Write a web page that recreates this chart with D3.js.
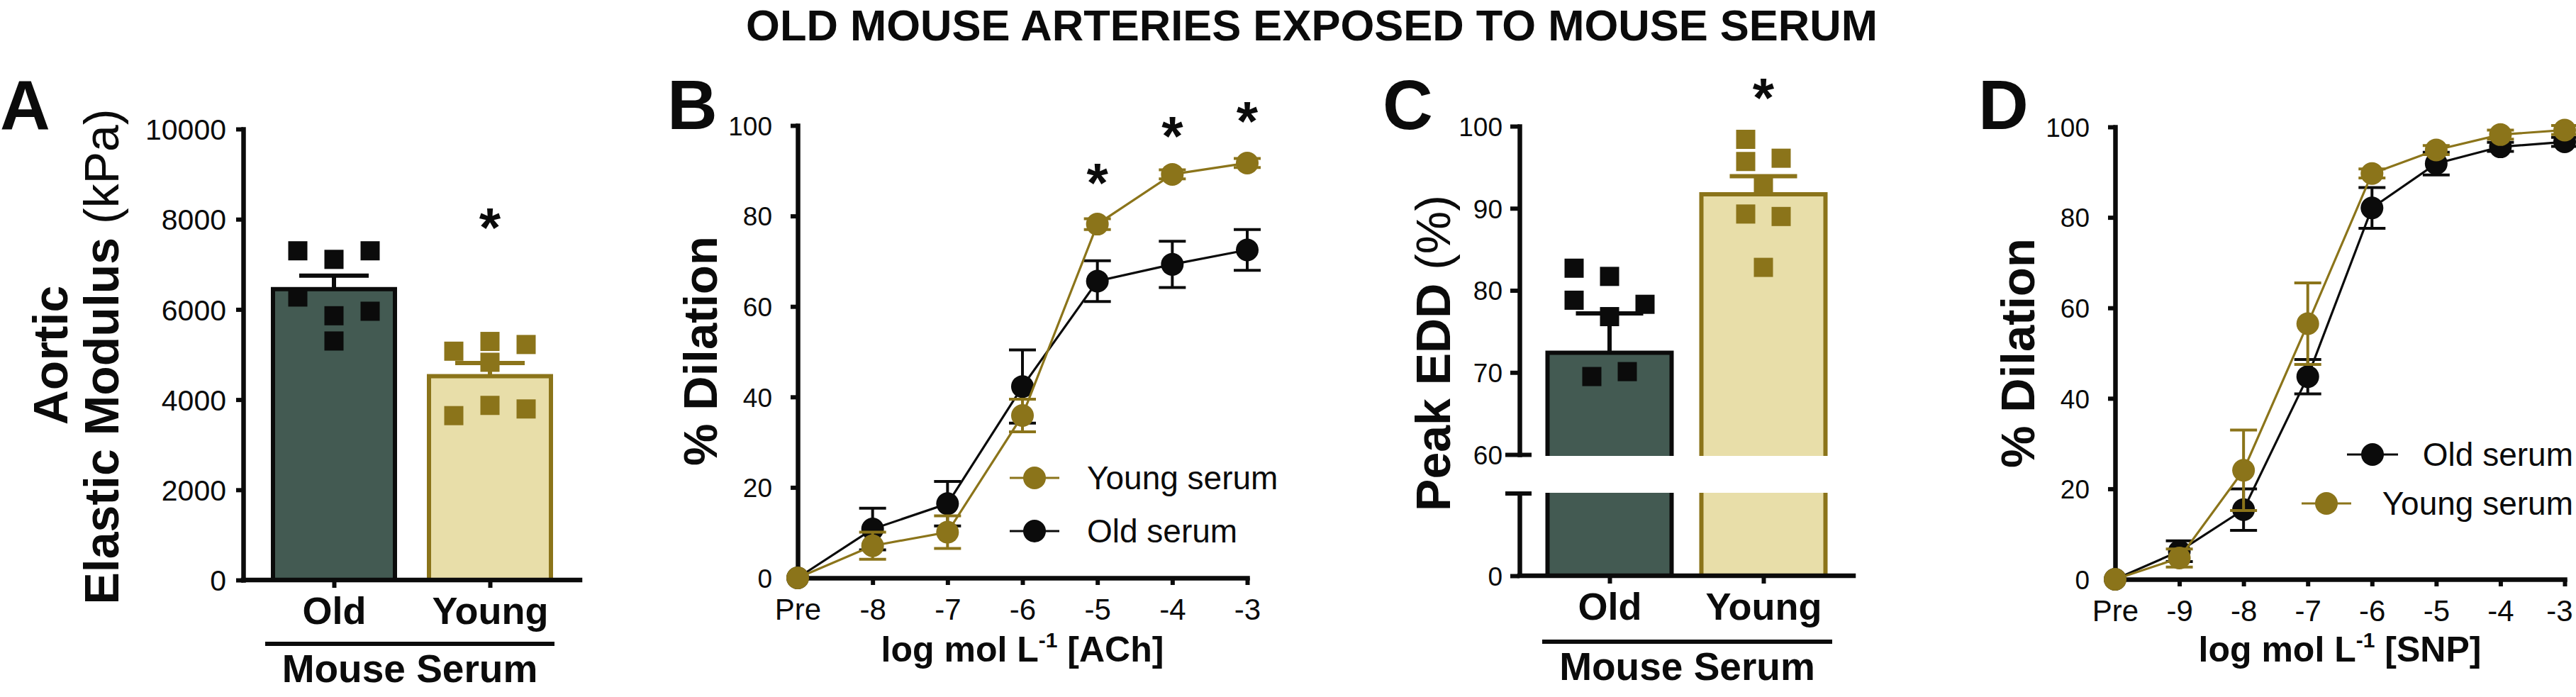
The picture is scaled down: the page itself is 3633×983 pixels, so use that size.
<!DOCTYPE html>
<html><head><meta charset="utf-8">
<script src="https://cdn.jsdelivr.net/npm/d3@7"></script>
<style>body{margin:0;background:#fff}svg{display:block}</style>
</head><body>
<svg id="c" width="3633" height="983"></svg>
<script>
// ---------------- DATA ----------------
const groups = ["Old", "Young"];
// Panel A: aortic elastic modulus (kPa)
const modulusMean = [6450, 4520];
const modulusSem = [300, 290];
const modulusOld = [7300, 7110, 7300, 6275, 5860, 5960, 5300];
const modulusYoung = [5074, 5290, 5222, 4828, 3645, 3872, 3793];
const modulusOldJitter = [-1, 0, 1, -1, 0, 1, 0];
const modulusYoungJitter = [-1, 0, 1, 0, -1, 0, 1];
// Panel B: ACh dose response (% dilation)
const achDoses = ["Pre", "-8", "-7", "-6", "-5", "-4", "-3"];
const achOld = [0, 10.8, 16.4, 42.3, 65.6, 69.3, 72.5];
const achOldSem = [0, 4.6, 4.9, 8.1, 4.5, 5.1, 4.5];
const achYoung = [0, 7.1, 10.1, 35.9, 78.2, 89.2, 91.7];
const achYoungSem = [0, 3.0, 3.6, 3.6, 1.2, 1.0, 1.0];
const achStarDoses = ["-5", "-4", "-3"];
const achStarLevels = [89.3, 99.7, 103.0];
// Panel C: peak EDD (%)
const eddMean = [72.4, 91.7];
const eddSem = [4.8, 2.2];
const eddOld = [82.7, 81.7, 78.8, 78.3, 76.8, 69.5, 70.1];
const eddYoung = [98.4, 95.7, 96.1, 92.7, 89.3, 89.0, 82.8];
const eddOldJitter = [-1, 0, -1, 1, 0, -0.5, 0.5];
const eddYoungJitter = [-0.5, -0.5, 0.5, 0, -0.5, 0.5, 0];
// Panel D: SNP dose response (% dilation)
const snpDoses = ["Pre", "-9", "-8", "-7", "-6", "-5", "-4", "-3"];
const snpOld = [0, 6.2, 15.4, 44.8, 82.1, 91.9, 95.6, 96.7];
const snpOldSem = [0, 2.3, 4.6, 3.8, 4.5, 2.5, 1.0, 1.0];
const snpYoung = [0, 4.7, 24.1, 56.5, 89.7, 94.9, 98.3, 99.3];
const snpYoungSem = [0, 2.0, 8.9, 9.0, 1.0, 1.0, 1.0, 1.0];
const modulusTicks = [0, 2000, 4000, 6000, 8000, 10000];
const dilationTicks = [0, 20, 40, 60, 80, 100];
const eddTicks = [60, 70, 80, 90, 100];

// ---------------- STYLE ----------------
const FONT = '"Liberation Sans", Arial, Helvetica, sans-serif';
const BLACK = "#0b0b0b", GOLD = "#8b741a", OLDFILL = "#435a52", YOUNGFILL = "#e8dea9";
const svg = d3.select("#c").attr("font-family", FONT);

function styleAxis(g, fs, bold) {
  g.attr("font-family", FONT).attr("font-size", fs);
  g.select(".domain").attr("stroke", BLACK).attr("stroke-width", 6.5).attr("fill", "none").attr("stroke-linecap", "square");
  g.selectAll(".tick line").attr("stroke", BLACK).attr("stroke-width", 6);
  g.selectAll(".tick text").attr("fill", BLACK).attr("font-weight", bold ? "bold" : "normal");
}
function star(x, y) {
  svg.append("text").attr("x", x).attr("y", y + 40).attr("text-anchor", "middle")
    .attr("font-weight", "bold").attr("font-size", 78).attr("fill", BLACK).text("*");
}
function panelLetter(x, t) {
  svg.append("text").attr("x", x).attr("y", 182).attr("font-weight", "bold").attr("font-size", 98).attr("fill", BLACK).text(t);
}
function yTitle(x, cy, parts, fs) {
  const t = svg.append("text").attr("transform", `translate(${x},${cy}) rotate(-90)`).attr("text-anchor", "middle")
    .attr("font-size", fs).attr("fill", BLACK);
  parts.forEach(p => t.append("tspan").attr("font-weight", p[1] ? "bold" : "normal").text(p[0]));
}
function xTitle(cx, drug) {
  const t = svg.append("text").attr("x", cx).attr("y", 933).attr("text-anchor", "middle").attr("font-weight", "bold").attr("font-size", 50).attr("fill", BLACK);
  t.append("tspan").text("log mol L");
  t.append("tspan").attr("font-size", 30).attr("dy", -20).text("-1");
  t.append("tspan").attr("dy", 20).text(" [" + drug + "]");
}
function serumLabel(x0, x1, y) {
  svg.append("line").attr("x1", x0).attr("x2", x1).attr("y1", y).attr("y2", y).attr("stroke", BLACK).attr("stroke-width", 6);
  svg.append("text").attr("x", (x0 + x1) / 2).attr("y", y + 54).attr("text-anchor", "middle").attr("font-weight", "bold").attr("font-size", 55).attr("fill", BLACK).text("Mouse Serum");
}

// ---------------- TITLE ----------------
svg.append("text").attr("x", 1850).attr("y", 57).attr("text-anchor", "middle").attr("font-weight", "bold")
  .attr("font-size", 61.5).attr("fill", BLACK).text("OLD MOUSE ARTERIES EXPOSED TO MOUSE SERUM");

// ---------------- PANEL A ----------------
(function () {
  const x = d3.scalePoint().domain(groups).range([471, 691]);
  const y = d3.scaleLinear().domain([0, 10000]).range([818, 182]);
  const barW = 172, jit = 51, sq = 27, cap = 98;
  const fills = [OLDFILL, YOUNGFILL], strokes = [BLACK, GOLD];
  const pts = [modulusOld, modulusYoung], jits = [modulusOldJitter, modulusYoungJitter];
  groups.forEach((g, i) => {
    svg.append("rect").attr("x", x(g) - barW / 2).attr("y", y(modulusMean[i])).attr("width", barW)
      .attr("height", y(0) - y(modulusMean[i])).attr("fill", fills[i]).attr("stroke", strokes[i]).attr("stroke-width", 6);
    svg.append("line").attr("x1", x(g)).attr("x2", x(g)).attr("y1", y(modulusMean[i])).attr("y2", y(modulusMean[i] + modulusSem[i]))
      .attr("stroke", strokes[i]).attr("stroke-width", 6);
    svg.append("line").attr("x1", x(g) - cap / 2).attr("x2", x(g) + cap / 2).attr("y1", y(modulusMean[i] + modulusSem[i])).attr("y2", y(modulusMean[i] + modulusSem[i]))
      .attr("stroke", strokes[i]).attr("stroke-width", 6);
    svg.selectAll(null).data(pts[i]).enter().append("rect")
      .attr("x", (d, k) => x(g) + jits[i][k] * jit - sq / 2).attr("y", d => y(d) - sq / 2)
      .attr("width", sq).attr("height", sq).attr("fill", strokes[i]);
  });
  const ya = svg.append("g").attr("transform", "translate(343,0)")
    .call(d3.axisLeft(y).tickValues(modulusTicks).tickFormat(d3.format("d")).tickSize(10).tickPadding(14).tickSizeOuter(0));
  styleAxis(ya, 41, false);
  ya.selectAll(".tick text").attr("dy", "0.36em");
  const xa = svg.append("g").attr("transform", "translate(0,818)")
    .call(d3.axisBottom(x).tickSize(11).tickPadding(13).tickSizeOuter(0));
  styleAxis(xa, 54, true);
  xa.select(".domain").attr("d", "M343,0H818");
  star(x("Young"), y(8020));
  panelLetter(0, "A");
  yTitle(95, 501, [["Aortic", true]], 68);
  yTitle(167, 503, [["Elastic Modulus ", true], ["(kPa)", false]], 68);
  serumLabel(374, 782, 908);
})();

// ---------------- dose-response helper ----------------
function doseResponse(doses, series, x, y) {
  series.forEach(s => {
    const line = d3.line().x((d, i) => x(doses[i])).y(d => y(d));
    svg.append("path").attr("d", line(s.vals)).attr("fill", "none").attr("stroke", s.color).attr("stroke-width", 3.2);
    s.vals.forEach((v, i) => {
      if (!s.sem[i]) return;
      const cx = x(doses[i]), lo = y(v - s.sem[i]), hi = y(v + s.sem[i]);
      svg.append("line").attr("x1", cx).attr("x2", cx).attr("y1", lo).attr("y2", hi).attr("stroke", s.color).attr("stroke-width", 4);
      [lo, hi].forEach(yy => svg.append("line").attr("x1", cx - 19).attr("x2", cx + 19).attr("y1", yy).attr("y2", yy).attr("stroke", s.color).attr("stroke-width", 4));
    });
    svg.selectAll(null).data(s.vals).enter().append("circle")
      .attr("cx", (d, i) => x(doses[i])).attr("cy", d => y(d)).attr("r", 16).attr("fill", s.color);
  });
}
function legendItem(lx0, lx1, ly, color, label, tx, anchor) {
  svg.append("line").attr("x1", lx0).attr("x2", lx1).attr("y1", ly).attr("y2", ly).attr("stroke", color).attr("stroke-width", 3.2);
  svg.append("circle").attr("cx", (lx0 + lx1) / 2).attr("cy", ly).attr("r", 16).attr("fill", color);
  svg.append("text").attr("x", tx).attr("y", ly + 16).attr("text-anchor", anchor).attr("font-size", 46).attr("fill", BLACK).text(label);
}

// ---------------- PANEL B ----------------
(function () {
  const x = d3.scalePoint().domain(achDoses).range([1125, 1759]);
  const y = d3.scaleLinear().domain([0, 100]).range([815, 177]);
  const ya = svg.append("g").attr("transform", "translate(1125,0)")
    .call(d3.axisLeft(y).tickValues(dilationTicks).tickSize(10).tickPadding(26).tickSizeOuter(0));
  styleAxis(ya, 37, false);
  ya.selectAll(".tick text").attr("dy", "0.36em");
  const xa = svg.append("g").attr("transform", "translate(0,815)")
    .call(d3.axisBottom(x).tickSize(10).tickPadding(19).tickSizeOuter(0));
  styleAxis(xa, 42, false);
  xa.selectAll(".tick line").filter(d => d === "Pre").remove();
  doseResponse(achDoses, [
    { vals: achOld, sem: achOldSem, color: BLACK },
    { vals: achYoung, sem: achYoungSem, color: GOLD }
  ], x, y);
  achStarDoses.forEach((d, i) => star(x(d), y(achStarLevels[i])));
  legendItem(1424, 1494, 674, GOLD, "Young serum", 1533, "start");
  legendItem(1424, 1494, 749, BLACK, "Old serum", 1533, "start");
  panelLetter(941, "B");
  yTitle(1011, 495, [["% Dilation", true]], 67);
  xTitle(1442, "ACh");
})();

// ---------------- PANEL C ----------------
(function () {
  const x = d3.scalePoint().domain(groups).range([2270, 2487]);
  const yU = d3.scaleLinear().domain([60, 100]).range([641, 178]);
  const yL = d3.scaleLinear().domain([0, 60]).range([812, 696]);
  const barW = 175, jit = 50, sq = 27, cap = 95;
  const fills = [OLDFILL, YOUNGFILL], strokes = [BLACK, GOLD];
  const pts = [eddOld, eddYoung], jits = [eddOldJitter, eddYoungJitter];
  groups.forEach((g, i) => {
    const x0 = x(g) - barW / 2, x1 = x(g) + barW / 2;
    const top = yU(eddMean[i]), cut = yU(60) + 2;
    svg.append("rect").attr("x", x0).attr("y", top).attr("width", barW).attr("height", cut - top).attr("fill", fills[i]);
    svg.append("path").attr("d", `M${x0},${cut}V${top}H${x1}V${cut}`).attr("fill", "none").attr("stroke", strokes[i]).attr("stroke-width", 6);
    const lt = yL(60) - 1, lb = yL(0);
    svg.append("rect").attr("x", x0).attr("y", lt).attr("width", barW).attr("height", lb - lt).attr("fill", fills[i]);
    svg.append("path").attr("d", `M${x0},${lt}V${lb}H${x1}V${lt}`).attr("fill", "none").attr("stroke", strokes[i]).attr("stroke-width", 6);
    const eTop = yU(eddMean[i] + eddSem[i]);
    svg.append("line").attr("x1", x(g)).attr("x2", x(g)).attr("y1", top).attr("y2", eTop).attr("stroke", strokes[i]).attr("stroke-width", 6);
    svg.append("line").attr("x1", x(g) - cap / 2).attr("x2", x(g) + cap / 2).attr("y1", eTop).attr("y2", eTop).attr("stroke", strokes[i]).attr("stroke-width", 6);
    svg.selectAll(null).data(pts[i]).enter().append("rect")
      .attr("x", (d, k) => x(g) + jits[i][k] * jit - sq / 2).attr("y", d => yU(d) - sq / 2)
      .attr("width", sq).attr("height", sq).attr("fill", strokes[i]);
  });
  const yaU = svg.append("g").attr("transform", "translate(2143,0)")
    .call(d3.axisLeft(yU).tickValues(eddTicks).tickSize(13).tickPadding(11).tickSizeOuter(0));
  styleAxis(yaU, 37, false);
  yaU.selectAll(".tick text").attr("dy", "0.36em");
  yaU.selectAll(".tick line").filter(d => d === 60).attr("x1", 17).attr("x2", -20);
  const yaL = svg.append("g").attr("transform", "translate(2143,0)")
    .call(d3.axisLeft(yL).tickValues([0]).tickSize(13).tickPadding(11).tickSizeOuter(0));
  styleAxis(yaL, 37, false);
  yaL.selectAll(".tick text").attr("dy", "0.36em");
  yaL.select(".domain").attr("stroke-linecap", "butt");
  yaL.append("line").attr("x1", -20).attr("x2", 17).attr("y1", yL(60)).attr("y2", yL(60)).attr("stroke", BLACK).attr("stroke-width", 6);
  const xa = svg.append("g").attr("transform", "translate(0,812)")
    .call(d3.axisBottom(x).tickSize(11).tickPadding(13).tickSizeOuter(0));
  styleAxis(xa, 54, true);
  xa.select(".domain").attr("d", "M2143,0H2614");
  star(x("Young"), yU(104.6));
  panelLetter(1950, "C");
  yTitle(2045, 498, [["Peak EDD ", true], ["(%)", false]], 68);
  serumLabel(2175, 2584, 905);
})();

// ---------------- PANEL D ----------------
(function () {
  const x = d3.scalePoint().domain(snpDoses).range([2983, 3617]);
  const y = d3.scaleLinear().domain([0, 100]).range([817, 179]);
  const ya = svg.append("g").attr("transform", "translate(2983,0)")
    .call(d3.axisLeft(y).tickValues(dilationTicks).tickSize(10).tickPadding(26).tickSizeOuter(0));
  styleAxis(ya, 37, false);
  ya.selectAll(".tick text").attr("dy", "0.36em");
  const xa = svg.append("g").attr("transform", "translate(0,817)")
    .call(d3.axisBottom(x).tickSize(10).tickPadding(19).tickSizeOuter(0));
  styleAxis(xa, 42, false);
  xa.selectAll(".tick line").filter(d => d === "Pre").remove();
  // keep the last dose label inside the picture
  xa.selectAll(".tick text").filter(d => d === "-3").attr("text-anchor", "end").attr("dx", 11);
  doseResponse(snpDoses, [
    { vals: snpOld, sem: snpOldSem, color: BLACK },
    { vals: snpYoung, sem: snpYoungSem, color: GOLD }
  ], x, y);
  legendItem(3310, 3382, 641, BLACK, "Old serum", 3629, "end");
  legendItem(3246, 3316, 710, GOLD, "Young serum", 3629, "end");
  panelLetter(2790, "D");
  yTitle(2869, 498, [["% Dilation", true]], 67);
  xTitle(3300, "SNP");
})();
</script>
</body></html>
